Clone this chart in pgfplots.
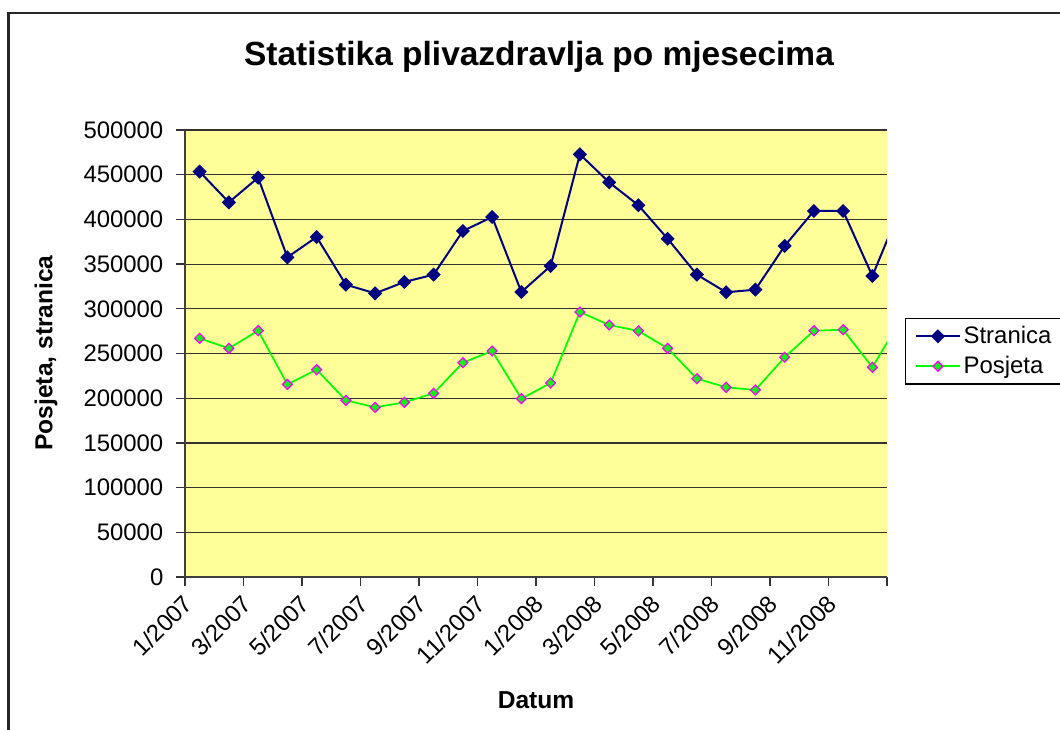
\documentclass[border=0pt]{standalone}
\usepackage{fontspec}
\setmainfont{Liberation Sans}
\usepackage{pgfplots}
\pgfplotsset{compat=1.18}
\definecolor{plotyellow}{HTML}{FFFF99}
\definecolor{navyline}{HTML}{000080}
\definecolor{greenline}{HTML}{00FF00}
\definecolor{pinkedge}{HTML}{FF00FF}

\begin{document}
\begin{tikzpicture}[x=0.75bp, y=0.75bp]
% page = 1060 x 729 px, y counted from the bottom
\path[use as bounding box] (0,0) rectangle (1060,729);
\draw[line width=1.6bp, black!85] (8.5,-100) -- (8.5,716) -- (1100,716);

\node[font=\fontsize{25.2}{30}\selectfont\bfseries, anchor=base] at (539,663)
  {Statistika plivazdravlja po mjesecima};
\node[font=\fontsize{18.5}{22}\selectfont\bfseries, rotate=90] at (46,376) {Posjeta, stranica};
\node[font=\fontsize{18.5}{22}\selectfont\bfseries] at (536,29) {Datum};

\begin{axis}[
  at={(138.75bp,114bp)}, anchor=south west,
  scale only axis, width=526.5bp, height=335.25bp,
  xmin=0, xmax=24, ymin=0, ymax=500000,
  axis lines=left,
  axis line style={-, draw=black!75, line width=1bp},
  every outer x axis line/.append style={-},
  every outer y axis line/.append style={-},
  tick align=outside, major tick length=6.75bp,
  tick style={black!80, line width=1bp},
  xtick={0,2,4,6,8,10,12,14,16,18,20,22,24},
  xticklabels={1/2007,3/2007,5/2007,7/2007,9/2007,11/2007,1/2008,3/2008,5/2008,7/2008,9/2008,11/2008,{}},
  ytick={0,50000,100000,150000,200000,250000,300000,350000,400000,450000,500000},
  yticklabels={0,50000,100000,150000,200000,250000,300000,350000,400000,450000,500000},
  scaled y ticks=false,
  ymajorgrids, grid style={black!80, line width=0.9bp},
  axis background/.style={fill=plotyellow},
  tick label style={font=\fontsize{18}{21}\selectfont},
  yticklabel style={xshift=-6bp},
  xticklabel style={rotate=45, anchor=east, yshift=-9bp, xshift=-2bp},
  legend style={at={(1.0256,0.5794)}, anchor=north west, draw=black, line width=1bp,
    font=\fontsize{18}{21}\selectfont, inner xsep=7bp, inner ysep=4bp, row sep=4bp,
    fill=white},
  legend image code/.code={%
    \draw[mark repeat=2, mark phase=2, #1] plot coordinates {(0bp,0bp) (16.5bp,0bp) (33bp,0bp)};},
  legend cell align=left,
]
\addplot[navyline, line width=1.5bp, mark=square*, mark size=3.0bp,
  mark options={rotate=45, solid, fill=navyline}] coordinates {
  (0.5,453400) (1.5,419100) (2.5,446700) (3.5,357600) (4.5,380300)
  (5.5,327000) (6.5,317300) (7.5,330000) (8.5,338200) (9.5,387000)
  (10.5,402700) (11.5,318800) (12.5,347900) (13.5,472800) (14.5,441500)
  (15.5,415800) (16.5,378400) (17.5,338200) (18.5,318500) (19.5,321400)
  (20.5,370300) (21.5,409400) (22.5,409400) (23.5,336700) (24.5,416000)
};
\addlegendentry{Stranica}
\addplot[greenline, line width=1.3bp, mark=square*, mark size=2.6bp,
  mark options={rotate=45, solid, fill=greenline, draw=pinkedge, line width=1bp}] coordinates {
  (0.5,267000) (1.5,255800) (2.5,275500) (3.5,215500) (4.5,231900)
  (5.5,197600) (6.5,189800) (7.5,195400) (8.5,205500) (9.5,239700)
  (10.5,252800) (11.5,199500) (12.5,217000) (13.5,296400) (14.5,281900)
  (15.5,275200) (16.5,255800) (17.5,221800) (18.5,212200) (19.5,209200)
  (20.5,245800) (21.5,275500) (22.5,276600) (23.5,234600) (24.5,290000)
};
\addlegendentry{Posjeta}
\end{axis}
\end{tikzpicture}
\end{document}
